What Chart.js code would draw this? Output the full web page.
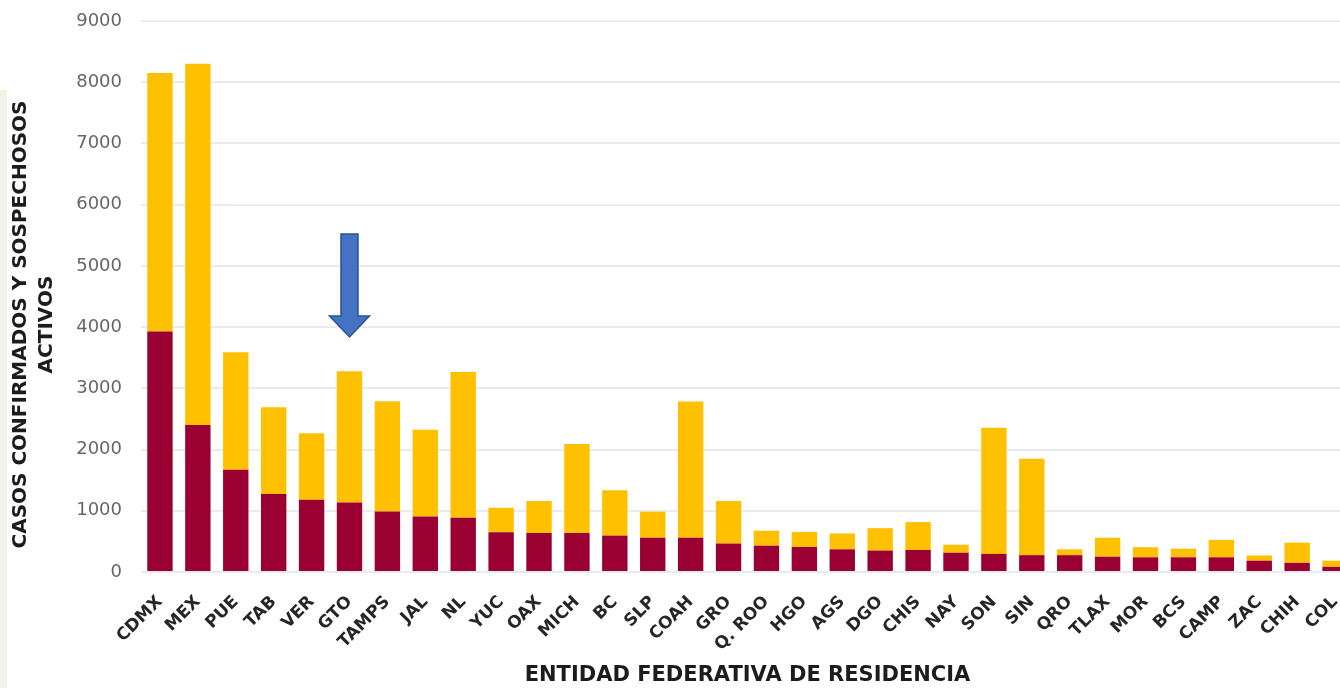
<!DOCTYPE html>
<html>
<head>
<meta charset="utf-8">
<script src="https://cdn.jsdelivr.net/npm/chart.js@4.4.0/dist/chart.umd.min.js"></script>
<style>
  html, body { margin: 0; padding: 0; background: #ffffff; overflow: hidden; width: 1340px; height: 688px; }
  #wrap { position: relative; width: 1354px; height: 688px; }
  #strip { position: absolute; left: 0; top: 90px; width: 7px; height: 598px; background: #f6f2ea; }
  canvas { position: absolute; left: 0; top: 0; }
</style>
</head>
<body>
<div id="wrap">
  <div id="strip"></div>
  <canvas id="c" width="1354" height="688"></canvas>
</div>
<script>
const categories = ["CDMX","MEX","PUE","TAB","VER","GTO","TAMPS","JAL","NL","YUC","OAX","MICH","BC","SLP","COAH","GRO","Q. ROO","HGO","AGS","DGO","CHIS","NAY","SON","SIN","QRO","TLAX","MOR","BCS","CAMP","ZAC","CHIH","COL"];
const confirmados = [3930,2400,1670,1275,1180,1135,990,905,885,650,635,635,595,560,560,465,430,410,370,350,360,315,295,275,275,250,240,240,240,185,150,85];
const sospechosos = [4220,5900,1920,1415,1085,2145,1800,1420,2380,400,525,1455,740,425,2225,695,245,245,260,365,455,130,2060,1575,95,310,165,140,285,85,330,100];
const yTicks = [0,1000,2000,3000,4000,5000,6000,7000,8000,9000];
const yTitleLines = ["CASOS CONFIRMADOS Y SOSPECHOSOS", "ACTIVOS"];
const xTitle = "ENTIDAD FEDERATIVA DE RESIDENCIA";
// blue arrow annotation (category index and value range)
const arrowIndex = 5;
const arrowTop = 5520;
const arrowHeadBase = 4180;
const arrowTip = 3840;

const arrowPlugin = {
  id: 'arrow',
  afterDatasetsDraw(chart) {
    const ctx = chart.ctx, xs = chart.scales.x, ys = chart.scales.y;
    const cx = xs.getPixelForValue(arrowIndex);
    const yTop = ys.getPixelForValue(arrowTop);
    const yBase = ys.getPixelForValue(arrowHeadBase);
    const yTip = ys.getPixelForValue(arrowTip);
    const sw = 8.5, hw = 20;
    ctx.save();
    ctx.beginPath();
    ctx.moveTo(cx - sw, yTop);
    ctx.lineTo(cx + sw, yTop);
    ctx.lineTo(cx + sw, yBase);
    ctx.lineTo(cx + hw, yBase);
    ctx.lineTo(cx, yTip);
    ctx.lineTo(cx - hw, yBase);
    ctx.lineTo(cx - sw, yBase);
    ctx.closePath();
    ctx.fillStyle = '#4472C4';
    ctx.fill();
    ctx.lineWidth = 1.5;
    ctx.strokeStyle = '#2F528F';
    ctx.stroke();
    ctx.restore();
  }
};

const yTitlePlugin = {
  id: 'ytitle',
  afterDraw(chart) {
    const ctx = chart.ctx;
    const cy = (chart.chartArea.top + chart.chartArea.bottom) / 2 + 28;
    ctx.save();
    ctx.fillStyle = '#1c1c1c';
    ctx.font = 'bold 20px "DejaVu Sans"';
    ctx.textAlign = 'center';
    ctx.textBaseline = 'middle';
    const xs = [21, 47];
    yTitleLines.forEach((t, i) => {
      ctx.save();
      ctx.translate(xs[i], cy);
      ctx.rotate(-Math.PI / 2);
      ctx.fillText(t, 0, 0);
      ctx.restore();
    });
    ctx.restore();
  }
};

new Chart(document.getElementById('c'), {
  type: 'bar',
  data: {
    labels: categories,
    datasets: [
      { label: 'Confirmados', data: confirmados, backgroundColor: '#9B0033', borderWidth: 0, barPercentage: 0.67, categoryPercentage: 1 },
      { label: 'Sospechosos', data: sospechosos, backgroundColor: '#FFC000', borderWidth: 0, barPercentage: 0.67, categoryPercentage: 1 }
    ]
  },
  options: {
    responsive: false,
    animation: false,
    layout: { padding: { top: 21, right: 0, left: 0, bottom: 0 } },
    plugins: { legend: { display: false }, tooltip: { enabled: false } },
    scales: {
      x: {
        stacked: true,
        grid: { display: false, drawTicks: false },
        border: { display: false },
        ticks: {
          autoSkip: false, minRotation: 45, maxRotation: 45, padding: 20,
          color: '#262626', font: { family: 'DejaVu Sans', size: 17, weight: 'bold' }
        },
        title: { display: true, text: xTitle, color: '#1c1c1c', font: { family: 'DejaVu Sans', size: 21, weight: 'bold' }, padding: { top: 0, bottom: 0 } },
        afterFit(scale) {
          scale.height = 116;
          scale.paddingLeft = 0; scale.paddingRight = 0; scale.paddingTop = 0; scale.paddingBottom = 0;
        }
      },
      y: {
        stacked: true,
        min: 0, max: 9000,
        afterBuildTicks(scale) { scale.ticks = yTicks.map(v => ({ value: v })); },
        grid: { color: '#ebebeb', lineWidth: 2, drawTicks: false },
        border: { display: false },
        ticks: { padding: 19, color: '#666666', font: { family: 'DejaVu Sans', size: 18 }, callback: (v) => String(v) },
        afterFit(scale) {
          scale.width = 141;
          scale.paddingTop = 0; scale.paddingBottom = 0; scale.paddingLeft = 0; scale.paddingRight = 0;
        }
      }
    }
  },
  plugins: [arrowPlugin, yTitlePlugin]
});
</script>
</body>
</html>
